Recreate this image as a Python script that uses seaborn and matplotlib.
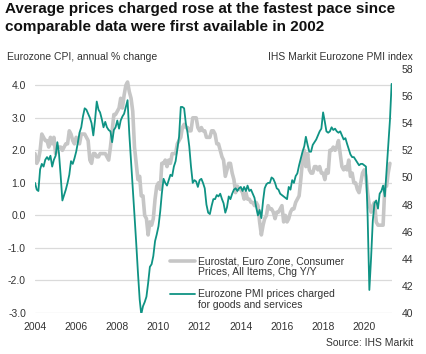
import numpy as np
import pandas as pd
import matplotlib
matplotlib.use("Agg")
import matplotlib.pyplot as plt
import matplotlib.dates as mdates
from matplotlib.lines import Line2D
import seaborn as sns

# ---------------- data ----------------
# Eurozone CPI, annual % change (monthly, Jan 2004 - Apr 2021)
cpi_2004 = [1.9, 1.6, 1.7, 2.0, 2.5, 2.4, 2.3, 2.3, 2.1, 2.4, 2.2, 2.4]
cpi_2005 = [1.9, 2.1, 2.1, 2.1, 2.0, 2.1, 2.2, 2.2, 2.6, 2.5, 2.3, 2.2]
cpi_2006 = [2.4, 2.3, 2.2, 2.5, 2.5, 2.5, 2.4, 2.3, 1.7, 1.6, 1.9, 1.9]
cpi_2007 = [1.8, 1.8, 1.9, 1.9, 1.9, 1.9, 1.8, 1.7, 2.1, 2.6, 3.1, 3.1]
cpi_2008 = [3.2, 3.3, 3.6, 3.3, 3.7, 4.0, 4.1, 3.8, 3.6, 3.2, 2.1, 1.6]
cpi_2009 = [1.1, 1.2, 0.6, 0.6, 0.0, -0.1, -0.6, -0.2, -0.3, -0.1, 0.5, 0.9]
cpi_2010 = [1.0, 0.8, 1.6, 1.6, 1.7, 1.5, 1.7, 1.6, 1.9, 1.9, 1.9, 2.2]
cpi_2011 = [2.3, 2.4, 2.7, 2.8, 2.7, 2.7, 2.6, 2.6, 3.0, 3.0, 3.0, 2.7]
cpi_2012 = [2.6, 2.7, 2.6, 2.6, 2.4, 2.4, 2.4, 2.6, 2.6, 2.5, 2.2, 2.2]
cpi_2013 = [2.0, 1.8, 1.7, 1.2, 1.4, 1.6, 1.6, 1.3, 1.1, 0.7, 0.9, 0.8]
cpi_2014 = [0.8, 0.7, 0.5, 0.7, 0.5, 0.5, 0.4, 0.4, 0.3, 0.4, 0.3, -0.2]
cpi_2015 = [-0.6, -0.3, -0.1, 0.0, 0.3, 0.2, 0.2, 0.1, -0.1, 0.1, 0.1, 0.2]
cpi_2016 = [0.3, -0.2, 0.0, -0.2, -0.1, 0.1, 0.2, 0.2, 0.4, 0.5, 0.6, 1.1]
cpi_2017 = [1.7, 2.0, 1.5, 1.9, 1.4, 1.3, 1.3, 1.5, 1.5, 1.4, 1.5, 1.3]
cpi_2018 = [1.3, 1.1, 1.4, 1.3, 2.0, 2.0, 2.1, 2.0, 2.1, 2.3, 1.9, 1.5]
cpi_2019 = [1.4, 1.5, 1.4, 1.7, 1.2, 1.3, 1.0, 1.0, 0.8, 0.7, 1.0, 1.3]
cpi_2020 = [1.4, 1.2, 0.7, 0.3, 0.1, 0.3, 0.4, -0.2, -0.3, -0.3, -0.3, -0.3]
cpi_2021 = [0.9, 0.9, 1.3, 1.6]

# Eurozone PMI prices charged index (monthly, Jan 2004 - May 2021)
pmi_2004 = [49.6, 49.1, 49.0, 50.6, 51.0, 50.8, 51.3, 51.5, 51.3, 51.6, 50.8, 51.3]
pmi_2005 = [51.6, 52.6, 51.8, 50.1, 48.3, 48.7, 49.1, 49.6, 50.2, 51.2, 51.0, 51.4]
pmi_2006 = [51.9, 52.6, 53.3, 53.7, 54.5, 55.1, 55.0, 54.7, 54.4, 54.0, 53.1, 54.2]
pmi_2007 = [55.6, 55.0, 54.8, 54.3, 53.7, 54.1, 53.7, 53.5, 53.4, 52.6, 53.5, 53.7]
pmi_2008 = [54.2, 53.6, 54.2, 54.5, 54.7, 55.2, 55.7, 53.2, 51.2, 49.2, 47.2, 45.2]
pmi_2009 = [43.0, 41.0, 39.9, 40.5, 40.8, 41.2, 42.2, 43.4, 43.6, 44.2, 45.3, 45.8]
pmi_2010 = [46.4, 47.5, 48.8, 49.9, 49.6, 49.4, 49.8, 50.2, 50.1, 50.8, 51.2, 52.1]
pmi_2011 = [53.0, 55.2, 55.2, 55.1, 54.0, 53.3, 52.3, 50.8, 49.6, 49.8, 49.7, 49.3]
pmi_2012 = [49.8, 49.9, 49.6, 49.2, 48.0, 47.4, 47.3, 47.9, 48.4, 48.4, 48.7, 48.6]
pmi_2013 = [48.8, 48.4, 48.1, 47.4, 47.8, 48.6, 48.4, 48.8, 49.1, 49.2, 49.0, 49.2]
pmi_2014 = [49.3, 49.0, 49.3, 49.0, 49.4, 49.0, 49.1, 48.8, 48.5, 47.8, 47.2, 47.6]
pmi_2015 = [47.0, 48.3, 49.2, 49.5, 49.6, 49.6, 50.0, 49.9, 49.6, 49.2, 49.1, 48.8]
pmi_2016 = [48.7, 48.6, 48.5, 48.4, 49.3, 49.1, 49.8, 49.6, 50.1, 50.3, 50.9, 51.4]
pmi_2017 = [51.9, 52.3, 53.0, 52.4, 51.9, 51.9, 52.4, 52.6, 52.8, 53.1, 53.4, 53.6]
pmi_2018 = [54.8, 54.1, 53.4, 53.3, 53.4, 53.7, 53.5, 53.6, 53.4, 53.3, 53.4, 53.1]
pmi_2019 = [52.8, 52.9, 52.5, 52.1, 51.7, 51.5, 51.5, 51.3, 51.1, 50.9, 51.0, 51.0]
pmi_2020 = [50.9, 50.8, 47.2, 41.7, 44.0, 46.8, 48.1, 48.3, 47.7, 48.8, 49.0, 49.4]
pmi_2021 = [48.6, 50.5, 52.3, 54.2, 56.9]

cpi_values = (cpi_2004 + cpi_2005 + cpi_2006 + cpi_2007 + cpi_2008 + cpi_2009 +
              cpi_2010 + cpi_2011 + cpi_2012 + cpi_2013 + cpi_2014 + cpi_2015 +
              cpi_2016 + cpi_2017 + cpi_2018 + cpi_2019 + cpi_2020 + cpi_2021)
pmi_values = (pmi_2004 + pmi_2005 + pmi_2006 + pmi_2007 + pmi_2008 + pmi_2009 +
              pmi_2010 + pmi_2011 + pmi_2012 + pmi_2013 + pmi_2014 + pmi_2015 +
              pmi_2016 + pmi_2017 + pmi_2018 + pmi_2019 + pmi_2020 + pmi_2021)

left_ticks = [-3.0, -2.0, -1.0, 0.0, 1.0, 2.0, 3.0, 4.0]
right_ticks = [40, 42, 44, 46, 48, 50, 52, 54, 56, 58]

title_lines = ["Average prices charged rose at the fastest pace since",
               "comparable data were first available in 2002"]
left_label = "Eurozone CPI, annual % change"
right_label = "IHS Markit Eurozone PMI index"
cpi_name = ["Eurostat, Euro Zone, Consumer", "Prices, All Items, Chg Y/Y"]
pmi_name = ["Eurozone PMI prices charged", "for goods and services"]
source = "Source: IHS Markit"

cpi_df = pd.DataFrame({"date": pd.date_range("2004-01-01", periods=len(cpi_values), freq="MS"),
                       "value": cpi_values})
pmi_df = pd.DataFrame({"date": pd.date_range("2004-01-01", periods=len(pmi_values), freq="MS"),
                       "value": pmi_values})

# ---------------- style ----------------
sns.set_theme(style="white")
plt.rcParams["font.family"] = ["Liberation Sans", "DejaVu Sans"]
plt.rcParams["axes.unicode_minus"] = False

GRAY = "#c6c6c6"
TEAL = "#0f9384"
TXT = "#333333"
W, H = 427, 354

fig = plt.figure(figsize=(W / 100, H / 100), dpi=100)
ax = fig.add_axes([35 / W, 41 / H, 357 / W, 244 / H])
ax2 = ax.twinx()

sns.lineplot(data=cpi_df, x="date", y="value", ax=ax, color=GRAY, lw=2.6, legend=False)
sns.lineplot(data=pmi_df, x="date", y="value", ax=ax2, color=TEAL, lw=1.3, legend=False)

ax.set_ylim(-3, 4.5)
ax2.set_ylim(40, 58)
ax.set_xlim(pd.Timestamp("2004-01-01"), pd.Timestamp("2021-05-08"))

ax.set_yticks(left_ticks)
ax.set_yticklabels([f"{v:.1f}" for v in left_ticks])
ax2.set_yticks(right_ticks)
ax2.set_yticklabels([str(v) for v in right_ticks])
ax.xaxis.set_major_locator(mdates.YearLocator(2, month=1, day=1))
ax.xaxis.set_major_formatter(mdates.DateFormatter("%Y"))

for a in (ax, ax2):
    a.set_xlabel("")
    a.set_ylabel("")
    for s in a.spines.values():
        s.set_visible(False)
    a.tick_params(length=0, labelsize=7.5, colors=TXT)
ax.tick_params(axis="x", pad=6.5)
ax.tick_params(axis="y", pad=6.5)
ax2.tick_params(axis="y", pad=7)

ax.yaxis.grid(True, color="#dadada", lw=0.9)
ax.xaxis.grid(False)
ax.set_zorder(0)
ax2.set_zorder(1)
ax2.patch.set_visible(False)

# ---------------- texts ----------------
def fy(y):
    return 1 - y / H

fig.text(5 / W, fy(12.9), title_lines[0], fontsize=11.0, weight="bold", color="#111111", va="baseline")
fig.text(5 / W, fy(30.9), title_lines[1], fontsize=11.0, weight="bold", color="#111111", va="baseline")
fig.text(7 / W, fy(60.5), left_label, fontsize=7.5, color=TXT, va="baseline")
fig.text(413 / W, fy(60.5), right_label, fontsize=7.5, color=TXT, va="baseline", ha="right")
fig.text(413 / W, fy(346), source, fontsize=7.5, color=TXT, va="baseline", ha="right")

# legend
fig.add_artist(Line2D([170 / W, 195 / W], [fy(261), fy(261)], color=GRAY, lw=2.6))
fig.add_artist(Line2D([170 / W, 195 / W], [fy(294), fy(294)], color=TEAL, lw=1.3))
fig.text(198 / W, fy(264.5), cpi_name[0], fontsize=7.5, color=TXT, va="baseline")
fig.text(198 / W, fy(274.8), cpi_name[1], fontsize=7.5, color=TXT, va="baseline")
fig.text(198 / W, fy(297.3), pmi_name[0], fontsize=7.5, color=TXT, va="baseline")
fig.text(198 / W, fy(307.5), pmi_name[1], fontsize=7.5, color=TXT, va="baseline")

fig.savefig("out.png", dpi=100)
